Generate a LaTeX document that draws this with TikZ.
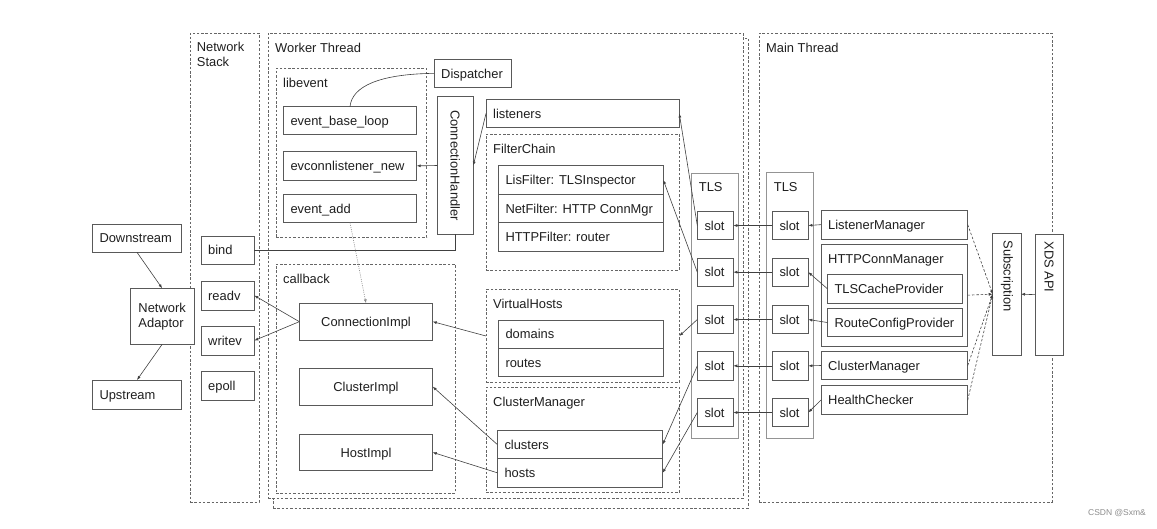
\documentclass[tikz,border=0pt]{standalone}
\usepackage{fontspec}
\setmainfont{Liberation Sans}
\usetikzlibrary{arrows.meta}
\tikzset{
  box/.style={draw=black!65, line width=0.8pt, fill=white, inner sep=0pt, outer sep=0pt},
  grp/.style={draw=black!60, dash pattern=on 2.5pt off 1.8pt, line width=0.7pt, fill=none},
  tls/.style={draw=black!42, line width=1.5pt},
  txt/.style={font=\fontsize{12.9}{15}\selectfont, text=black!88, inner sep=0pt},
  con/.style={draw=black!75, line width=0.6pt},
  arr/.style={con, -{Latex[length=4pt,width=3pt]}},
  darr/.style={arr, dash pattern=on 2.5pt off 1.8pt},
}
\newcommand\rb[6][]{\node[box,#1,minimum width={#5-#3},minimum height={#6-#4},anchor=north west] (#2) at (#3,#4) {};}
\newcommand\lt[2]{\node[txt,anchor=base west] at ([xshift=7pt,yshift=-4.8pt]#1.west) {#2};}
\newcommand\ct[2]{\node[txt,anchor=base] at ([yshift=-4.8pt]#1.center) {#2};}
\newcommand\gl[3][19.5]{\node[txt,anchor=base west] at ([xshift=7pt,yshift=-#1pt]#2.north west) {#3};}
\begin{document}
\begin{tikzpicture}[x=1pt,y=-1pt]
\useasboundingbox (0,0) rectangle (1157,528);
% thread frames
\rb[grp]{ns}{190}{33}{259}{502}
\node[txt,anchor=base west] at ([xshift=6.7pt,yshift=-18.7pt]ns.north west) {Network};
\node[txt,anchor=base west] at ([xshift=6.7pt,yshift=-33pt]ns.north west) {Stack};
\rb[grp]{wtb}{273}{38}{748}{508}
\rb[grp,fill=white]{wt}{268}{33}{743}{498}
\gl[19]{wt}{Worker Thread}
\rb[grp]{mt}{759}{33}{1052}{502}
\gl[19]{mt}{Main Thread}
% left side
\rb{ds}{92.3}{224}{181.7}{252.3} \lt{ds}{Downstream}
\rb{na}{130}{288.3}{194.3}{344.3}
\node[txt,align=left] at (na.center) {Network\\Adaptor};
\rb{us}{92.3}{380}{181.7}{409.3} \lt{us}{Upstream}
\rb{bind}{201}{236}{254.3}{264} \lt{bind}{bind}
\rb{readv}{201}{281}{254.3}{310} \lt{readv}{readv}
\rb{writev}{201}{326}{254.3}{355} \lt{writev}{writev}
\rb{epoll}{201}{371}{254.3}{400} \lt{epoll}{epoll}
% libevent
\rb[grp]{le}{276}{68.3}{426.7}{237.3} \gl{le}{libevent}
\rb{disp}{434}{59}{511}{87.7} \lt{disp}{Dispatcher}
\rb{ebl}{283.3}{106.7}{416.7}{134.3} \lt{ebl}{event\_base\_loop}
\rb{evl}{283.3}{151.7}{416.7}{180} \lt{evl}{evconnlistener\_new}
\rb{ea}{283.3}{194}{416.7}{222.7} \lt{ea}{event\_add}
\rb{ch}{437.3}{96.7}{473.3}{234.3}
\node[txt,rotate=-90] at (ch.center) {ConnectionHandler};
% callback
\rb[grp]{cb}{276}{264}{455}{493} \gl{cb}{callback}
\rb{ci}{299.3}{303.3}{432.7}{340} \ct{ci}{ConnectionImpl}
\rb{cli}{299.3}{368.3}{432.7}{405} \ct{cli}{ClusterImpl}
\rb{hi}{299.3}{434}{432.7}{470.7} \ct{hi}{HostImpl}
% listeners / filter chain
\rb{lis}{486}{99.3}{679.3}{127.7} \lt{lis}{listeners}
\rb[grp]{fc}{486}{134}{679.3}{270} \gl[19.5]{fc}{FilterChain}
\rb{lf}{498.3}{165.7}{663.3}{194.3} \lt{lf}{LisFilter: TLSInspector}
\rb{nf}{498.3}{194.3}{663.3}{222.7} \lt{nf}{NetFilter: HTTP ConnMgr}
\rb{hf}{498.3}{222.7}{663.3}{251} \lt{hf}{HTTPFilter: router}
\rb[grp]{vh}{486}{289.3}{679.3}{382.7} \gl{vh}{VirtualHosts}
\rb{dom}{498.3}{320}{663.3}{348.3} \lt{dom}{domains}
\rb{rt}{498.3}{348.3}{663.3}{376.7} \lt{rt}{routes}
\rb[grp]{cmw}{486}{387.3}{679.3}{492.7} \gl{cmw}{ClusterManager}
\rb{cl}{497.3}{430.7}{662.7}{458.3} \lt{cl}{clusters}
\rb{ho}{497.3}{458.3}{662.7}{487.3} \lt{ho}{hosts}
% TLS worker
\rb[tls]{wtls}{691.7}{173.3}{738.3}{438.3} \gl[18.4]{wtls}{TLS}
\rb{ws1}{697.3}{211.7}{733.3}{239.3} \lt{ws1}{slot}
\rb{ws2}{697.3}{258.3}{733.3}{286} \lt{ws2}{slot}
\rb{ws3}{697.3}{305.7}{733.3}{333.3} \lt{ws3}{slot}
\rb{ws4}{697.3}{351.7}{733.3}{380} \lt{ws4}{slot}
\rb{ws5}{697.3}{398.3}{733.3}{426.7} \lt{ws5}{slot}
% TLS main
\rb[tls]{mtls}{766.7}{172.7}{813.3}{438.3} \gl[18.4]{mtls}{TLS}
\rb{ms1}{772.3}{211.7}{808.3}{239.3} \lt{ms1}{slot}
\rb{ms2}{772.3}{258.3}{808.3}{286} \lt{ms2}{slot}
\rb{ms3}{772.3}{305.7}{808.3}{333.3} \lt{ms3}{slot}
\rb{ms4}{772.3}{351.7}{808.3}{380} \lt{ms4}{slot}
\rb{ms5}{772.3}{398.3}{808.3}{426.7} \lt{ms5}{slot}
% main thread managers
\rb{lm}{821}{210}{967.7}{239.3} \lt{lm}{ListenerManager}
\rb{hcm}{821}{244.3}{967.7}{346} \gl[19]{hcm}{HTTPConnManager}
\rb{tcp}{827.3}{274}{962.7}{303.3} \lt{tcp}{TLSCacheProvider}
\rb{rcp}{827.3}{308.3}{962.7}{336.7} \lt{rcp}{RouteConfigProvider}
\rb{cmm}{821}{351.7}{967.7}{379.3} \lt{cmm}{ClusterManager}
\rb{hc}{821}{385.7}{967.7}{414.3} \lt{hc}{HealthChecker}
\rb{sub}{992.7}{233.3}{1021}{355}
\node[txt,rotate=-90,anchor=west] at ([yshift=-7pt]sub.north) {Subscription};
\rb{xds}{1035}{234.3}{1063.3}{355}
\node[txt,rotate=-90,anchor=west] at ([yshift=-7pt]xds.north) {XDS API};
% watermark
\node[font=\fontsize{8.5}{10}\selectfont, text=black!45, inner sep=0pt] (wm) at (1117,513) {CSDN @Sxm\&};
% connectors
\draw[arr] (ds.south) -- (na.north);
\draw[arr] (na.south) -- (us.north);
\draw[con] (disp.west) .. controls (380,74) and (352,86) .. (ebl.north);
\draw[arr] (ch.west) -- (evl.east);
\draw[arr] (lis.west) -- (ch.east);
\draw[con] (ch.south) |- (bind.east);
\draw[arr, draw=black!45, dash pattern=on 1pt off 1.2pt] (ea.south) -- (ci.north);
\draw[arr] (ci.west) -- (readv.east);
\draw[arr] (ci.west) -- (writev.east);
\draw[arr] (vh.west) -- (ci.east);
\draw[arr] (cl.west) -- (cli.east);
\draw[arr] (ho.west) -- (hi.east);
\draw[arr] (ws1.west) -- (lis.east);
\draw[arr] (ws2.west) -- (lf.east);
\draw[arr] (ws3.west) -- (vh.east);
\draw[arr] (ws4.west) -- (cl.east);
\draw[arr] (ws5.west) -- (ho.east);
\foreach \i in {1,...,5} { \draw[arr] (ms\i.west) -- (ws\i.east); }
\draw[arr] (lm.west) -- (ms1.east);
\draw[arr] (tcp.west) -- (ms2.east);
\draw[arr] (rcp.west) -- (ms3.east);
\draw[arr] (cmm.west) -- (ms4.east);
\draw[arr] (hc.west) -- (ms5.east);
\draw[darr] (lm.east) -- (sub.west);
\draw[darr] (hcm.east) -- (sub.west);
\draw[darr] (cmm.east) -- (sub.west);
\draw[darr] (hc.east) -- (sub.west);
\draw[arr] (xds.west) -- (sub.east);
\end{tikzpicture}
\end{document}
